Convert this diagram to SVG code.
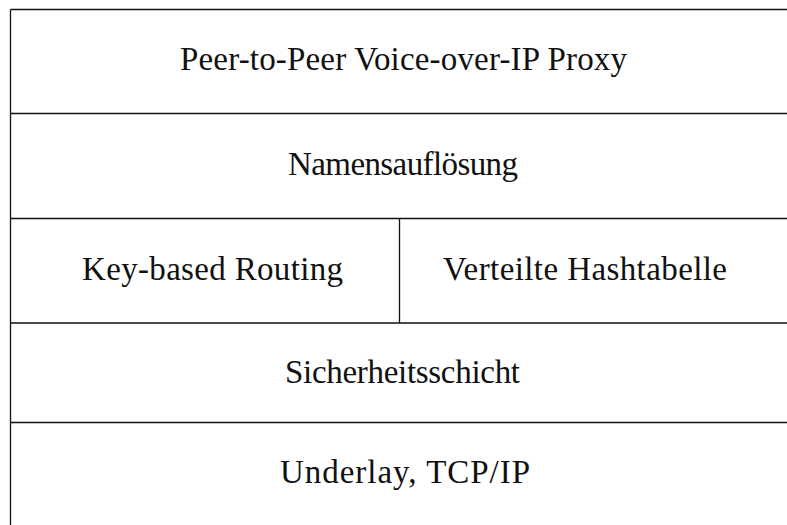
<svg xmlns="http://www.w3.org/2000/svg" width="787" height="525" viewBox="0 0 787 525">
  <style>
    .rule { stroke: #111; stroke-width: 1.3; fill: none; }
    .lbl { font-family: "Liberation Serif", "Times New Roman", serif; font-size: 33px; fill: #111; text-anchor: middle; }
  </style>
  <rect x="0" y="0" width="787" height="525" fill="#fff"/>
  <!-- layer boundaries -->
  <g id="connectors">
    <line class="rule" x1="10.5" y1="9.5" x2="787" y2="9.5"/>
    <line class="rule" x1="10.5" y1="9.5" x2="10.5" y2="525"/>
    <line class="rule" x1="10.5" y1="113.5" x2="787" y2="113.5"/>
    <line class="rule" x1="10.5" y1="218.5" x2="787" y2="218.5"/>
    <line class="rule" x1="399.5" y1="218.5" x2="399.5" y2="323"/>
    <line class="rule" x1="10.5" y1="323" x2="787" y2="323"/>
    <line class="rule" x1="10.5" y1="422.5" x2="787" y2="422.5"/>
  </g>
  <g id="proxy"><text class="lbl" x="403.5" y="70" textLength="447">Peer-to-Peer Voice-over-IP Proxy</text></g>
  <g id="naming"><text class="lbl" x="403" y="175" textLength="230">Namensauflösung</text></g>
  <g id="kbr"><text class="lbl" x="212.5" y="280" textLength="261">Key-based Routing</text></g>
  <g id="dht"><text class="lbl" x="585" y="280" textLength="284">Verteilte Hashtabelle</text></g>
  <g id="security"><text class="lbl" x="402.5" y="383" textLength="235">Sicherheitsschicht</text></g>
  <g id="underlay"><text class="lbl" x="405" y="483" textLength="250">Underlay, TCP/IP</text></g>
</svg>
